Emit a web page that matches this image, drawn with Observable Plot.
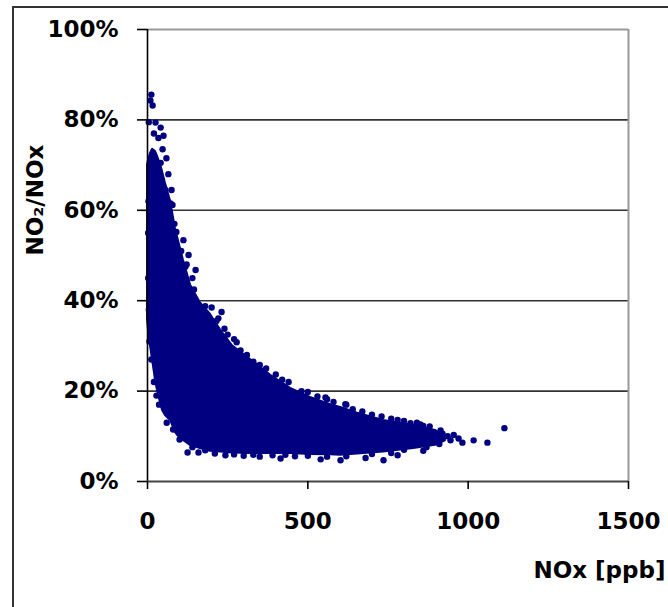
<!DOCTYPE html>
<html>
<head>
<meta charset="utf-8">
<script src="https://cdn.jsdelivr.net/npm/d3@7"></script>
<script src="https://cdn.jsdelivr.net/npm/@observablehq/plot@0.6"></script>
<style>
  html, body { margin: 0; padding: 0; background: #fff; overflow: hidden; }
  #wrap { position: relative; width: 668px; height: 607px; overflow: hidden; }
  #outer { position: absolute; left: 12px; top: 6px; width: 800px; height: 800px; border: 2px solid #333; box-sizing: border-box; }
  #chart { position: absolute; left: 0; top: 0; }
</style>
</head>
<body>
<div id="wrap"><div id="outer"></div><div id="chart"></div></div>
<script>
// Dense core of the scatter cloud: NOx (ppb) with lower / upper NO2/NOx edge (%)
const coreNox  = [0, 3, 9, 16, 25, 31, 41, 47, 56, 72, 87, 94, 112, 134, 165, 196, 228, 265, 321, 384, 446, 508, 571, 602, 655, 736, 830, 898, 929];
const coreLow  = [36, 33.5, 30.2, 26.8, 22.4, 20.2, 17.3, 15.7, 14.6, 13.5, 10.9, 10.2, 9.1, 8.0, 7.3, 6.7, 6.5, 6.3, 6.2, 6.2, 6.2, 6.0, 5.9, 5.8, 6.1, 6.5, 7.3, 8.0, 9.0];
const coreHigh = [70, 71, 72.5, 73.5, 73, 72, 70, 68.5, 66, 62, 56, 54, 49, 43.5, 39.5, 37, 33.5, 30, 27, 23.5, 20.6, 18.6, 17, 16.4, 15.1, 13.5, 12.4, 11.3, 9.9];

// Individually visible points around the cloud: NOx (ppb), NO2/NOx (%)
const ptNox = [12, 9, 16, 4, 25, 41, 34, 50, 20, 47, 59, 41, 65, 56, 75, 72, 84, 78, 90, 112, 128, 150, 122, 140,
  231, 221, 278, 302, 359, 399, 617, 555, 477, 820, 851, 914,
  945, 970, 982, 1017, 1060, 1113, 920, 936, 955, 905, 890,
  125, 159, 243, 415, 540, 602, 736, 680, 350, 460, 300, 780, 860,
  6, 12, 20, 28, 36, 60, 80, 100,
  200, 250, 290, 330, 420, 480, 530, 580, 640, 700, 760, 800, 860,
  105, 118, 145, 180, 215, 240, 270, 310, 350, 370, 400, 440, 500, 560, 620, 670, 730, 780, 840, 880,
  140, 180, 210, 270, 330, 390, 430, 500, 560, 620, 700, 760, 800, 870, 910,
  2, 2, 3, 4];
const ptPct = [85.6, 84.3, 83.2, 79.5, 79.4, 78.3, 76, 76.5, 77, 73.5, 71.5, 70.5, 68, 64.5, 64.5, 61.5, 57, 61.2, 55.2, 53.4, 50.1, 46.8, 48, 45,
  37.5, 36.1, 30.8, 26.6, 21.7, 21.3, 17.1, 18.6, 19.1, 12.9, 12.6, 11.3,
  9.1, 9.5, 8.6, 9.1, 8.6, 11.8, 10.6, 10, 10.3, 9.5, 10.4,
  6.4, 6.4, 5.8, 5.1, 4.9, 4.7, 4.7, 5.2, 5.5, 5.6, 5.7, 5.8, 6.8,
  31, 27, 22, 19, 17, 13, 11.5, 9.3,
  38.5, 32.5, 29, 26.5, 22.5, 20, 18.8, 17.6, 16, 14.8, 13.9, 13.4, 12.3,
  51, 47.5, 42.5, 38.8, 35.5, 33.8, 31.5, 28, 25.8, 25, 23.7, 22, 19.8, 18.2, 17, 15.5, 14.4, 13.6, 13, 12.2,
  7.6, 6.9, 6.2, 6.0, 5.9, 5.8, 5.9, 5.7, 5.5, 5.6, 6.1, 6.3, 7.0, 7.6, 8.3,
  45, 55, 62, 38];

const xTicks = [0, 500, 1000, 1500];
const yTicks = [0, 20, 40, 60, 80, 100];
const xTitle = "NOx [ppb]";
const yTitle = "NO₂/NOx";

const core = coreNox.map((x, i) => ({x, lo: coreLow[i] / 100, hi: coreHigh[i] / 100}));
const pts = ptNox.map((x, i) => ({x, y: ptPct[i] / 100}));
const yTickVals = yTicks.map(d => d / 100);

const navy = "#000080";

const chart = Plot.plot({
  width: 668,
  height: 607,
  marginLeft: 147,
  marginRight: 40,
  marginTop: 29,
  marginBottom: 126,
  style: {fontFamily: "'DejaVu Sans', sans-serif", fontWeight: "bold", fontSize: "23px", color: "#000", background: "transparent", overflow: "visible"},
  x: {domain: [0, 1500]},
  y: {domain: [0, 1]},
  marks: [
    Plot.ruleY(yTickVals.slice(1, -1), {stroke: "#333", strokeWidth: 1.6}),
    Plot.ruleY([1], {stroke: "#999", strokeWidth: 2}),
    Plot.ruleX([1500], {stroke: "#999", strokeWidth: 2}),
    Plot.areaY(core, {x: "x", y1: "lo", y2: "hi", fill: navy, stroke: navy, strokeWidth: 2, strokeLinejoin: "round"}),
    Plot.dot(pts, {x: "x", y: "y", r: 3.2, fill: navy}),
    Plot.ruleX([0], {stroke: "#000", strokeWidth: 1.6}),
    Plot.ruleY([0], {stroke: "#444", strokeWidth: 2}),
    Plot.axisY(yTickVals, {tickSize: 10, tickPadding: 19, tickFormat: d => Math.round(d * 100) + "%", label: null, strokeWidth: 1.6}),
    Plot.axisX(xTicks, {tickSize: 8, tickPadding: 23, tickFormat: d => String(d), label: null, strokeWidth: 1.6}),
    Plot.text([xTitle], {frameAnchor: "bottom-right", dx: 37, dy: 96, textAnchor: "end", fontSize: 23, fontWeight: "bold"}),
    Plot.text([yTitle], {frameAnchor: "left", dx: -112, rotate: -90, fontSize: 23, fontWeight: "bold"})
  ]
});
document.getElementById("chart").appendChild(chart);
</script>
</body>
</html>
